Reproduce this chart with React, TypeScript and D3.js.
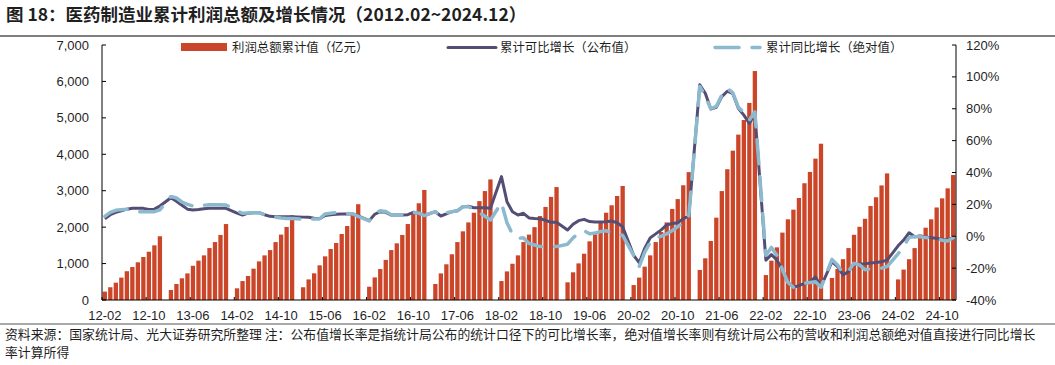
import React from "react";
import * as d3 from "d3";

// ---------- data (Feb..Dec each year; January has no release -> null) ----------
const years = [2012, 2013, 2014, 2015, 2016, 2017, 2018, 2019, 2020, 2021, 2022, 2023, 2024];

// 利润总额累计值（亿元）
const profit2012 = [230, 350, 475, 615, 790, 905, 1035, 1180, 1325, 1500, 1750];
const profit2013 = [275, 440, 595, 730, 940, 1080, 1225, 1425, 1590, 1785, 2085];
const profit2014 = [320, 520, 660, 860, 1060, 1225, 1370, 1590, 1795, 2005, 2325];
const profit2015 = [350, 565, 732, 952, 1198, 1400, 1565, 1812, 2031, 2350, 2630];
const profit2016 = [365, 620, 850, 1100, 1370, 1555, 1785, 2085, 2395, 2655, 3020];
const profit2017 = [440, 730, 980, 1255, 1590, 1885, 2130, 2395, 2715, 2990, 3310];
const profit2018 = [520, 785, 995, 1225, 1590, 1795, 2000, 2305, 2555, 2830, 3100];
const profit2019 = [485, 760, 1005, 1270, 1610, 1805, 2130, 2395, 2600, 2855, 3130];
const profit2020 = [410, 615, 915, 1225, 1590, 1865, 2130, 2500, 2770, 3150, 3510];
const profit2021 = [825, 1145, 1620, 2260, 2990, 3590, 4100, 4540, 4940, 5410, 6285];
const profit2022 = [685, 1080, 1445, 1850, 2215, 2480, 2800, 3205, 3515, 3880, 4290];
const profit2023 = [605, 850, 1120, 1425, 1790, 2010, 2230, 2580, 2820, 3145, 3475];
const profit2024 = [565, 835, 1120, 1425, 1790, 1985, 2215, 2540, 2790, 3065, 3430];

// 累计可比增长（公布值）%
const pub2012 = [11, 13.5, 15, 16, 17, 17.5, 17.5, 17.5, 16.8, 17, 19];
const pub2013 = [24.2, 22, 19.5, 17, 16.5, 16.8, 17.3, 17.5, 17.5, 17.5, 17.5];
const pub2014 = [14.5, 13.3, 14.5, 14.8, 14.8, 13.5, 12.5, 12.3, 12.3, 12.3, 12.3];
const pub2015 = [12, 11.9, 11.3, 11, 13, 13.5, 13.8, 14, 14, 14, 12.8];
const pub2016 = [9.8, 13.8, 15.4, 15, 13.3, 13.3, 13.3, 13.5, 15, 14.5, 13];
const pub2017 = [15.4, 12.7, 14, 15.4, 16, 18.5, 18.8, 17.9, 17.9, 17.9, 17.5];
const pub2018 = [37.4, 21.7, 15.4, 13.3, 14.4, 11.5, 11.2, 11, 10, 8.8, 8.8];
const pub2019 = [3.9, 7.5, 9.8, 10.6, 9.2, 9, 9, 9.1, 9.6, 8.5, 6];
const pub2020 = [-12, -16.6, -7.6, -1, 1.5, 4, 7.1, 8, 8.5, 11, 12.7];
const pub2021 = [95, 89.7, 79.8, 80.9, 87.6, 91, 89.5, 80.3, 76, 70.8, 77];
const pub2022 = [-15, -11.5, -14.9, -21.2, -29, -32, -31, -29.5, -28.8, -25.4, -31.6];
const pub2023 = [-16, -19.1, -24.3, -22.2, -17.5, -17.4, -17.2, -16.8, -16.5, -16, -15];
const pub2024 = [-6, -2.4, 2.2, -0.3, 0.2, -0.5, -1, -1.3, -2, -2.4, -0.7];

// 累计同比增长（绝对值）%
const abs2012 = [12.5, 15, 16.3, 16.7, 17, 16.5, 15.4, 15.3, 15.4, 15.4, 16.5];
const abs2013 = [25, 24, 21.5, 20, 19, 18.5, 19.5, 19.8, 19.8, 19.8, 19.6];
const abs2014 = [16, 14.4, 14.6, 14.8, 14.8, 13.5, 12.5, 12, 11.5, 11.2, 11.2];
const abs2015 = [10.6, 10.6, 10.8, 11, 14, 14.4, 14.8, 14.8, 14.3, 14, 12.5];
const abs2016 = [9.6, 14.5, 16, 15.5, 13.5, 13.3, 13.3, 13.5, 15, 14.5, 13];
const abs2017 = [15.4, 12.7, 14.8, 15.4, 16, 18.5, 18.5, 17, 14.8, 12.5, 10.2];
const abs2018 = [21, 8.5, 1.2, -1.3, -1, -4.5, -5.5, -6.5, -6.5, -6.5, -6.5];
const abs2019 = [-5, -1, 2, 3.5, 1.5, 2, 3, 3.5, 2, 1.4, 0.5];
const abs2020 = [-12, -19, -10, -4, -1, 0, 1.5, 3.5, 6, 8.5, 12.5];
const abs2021 = [94, 88, 80, 81.5, 88.5, 92.8, 90, 81, 77.5, 73, 78];
const abs2022 = [-12, -7, -12, -21, -29, -32, -31.5, -29.5, -29, -28.5, -32];
const abs2023 = [-14.5, -18, -23.3, -22, -17, -18, -21, -20.5, -20, -20, -19];
const abs2024 = [-11, -6.5, -0.7, -0.3, -0.3, -0.8, -1, -1.5, -2.5, -3, -1];

const profitYears = [profit2012, profit2013, profit2014, profit2015, profit2016, profit2017, profit2018, profit2019, profit2020, profit2021, profit2022, profit2023, profit2024];
const pubYears = [pub2012, pub2013, pub2014, pub2015, pub2016, pub2017, pub2018, pub2019, pub2020, pub2021, pub2022, pub2023, pub2024];
const absYears = [abs2012, abs2013, abs2014, abs2015, abs2016, abs2017, abs2018, abs2019, abs2020, abs2021, abs2022, abs2023, abs2024];

const leftTicks = [0, 1000, 2000, 3000, 4000, 5000, 6000, 7000];
const rightTicks = [-40, -20, 0, 20, 40, 60, 80, 100, 120];
const xTickLabels = ["12-02", "12-10", "13-06", "14-02", "14-10", "15-06", "16-02", "16-10", "17-06", "18-02", "18-10", "19-06", "20-02", "20-10", "21-06", "22-02", "22-10", "23-06", "24-02", "24-10"];

const title = "图 18：医药制造业累计利润总额及增长情况（2012.02~2024.12）";
const footer1 = "资料来源：国家统计局、光大证券研究所整理 注：公布值增长率是指统计局公布的统计口径下的可比增长率，绝对值增长率则有统计局公布的营收和利润总额绝对值直接进行同比增长";
const footer2 = "率计算所得";

// ---------- build monthly category table (Jan slots empty) ----------
type Row = { key: string; label: string; profit: number | null; pub: number | null; abs: number | null };
const rows: Row[] = [];
years.forEach((y, yi) => {
  const start = yi === 0 ? 2 : 1;
  for (let m = start; m <= 12; m++) {
    const label = `${String(y).slice(2)}-${String(m).padStart(2, "0")}`;
    const k = m - 2;
    rows.push({
      key: label,
      label,
      profit: m === 1 ? null : profitYears[yi][k],
      pub: m === 1 ? null : pubYears[yi][k],
      abs: m === 1 ? null : absYears[yi][k],
    });
  }
});

const W = 1055;
const H = 365;
const X0 = 102;
const X1 = 956;
const YT = 45;
const YB = 300;

const BAR = "#CB4528";
const DARK = "#544E75";
const LIGHT = "#8CB9CE";
const TXT = "#1f1f1f";
const NUMFONT = "'Liberation Sans', Arial, 'Noto Sans CJK SC', sans-serif";
const CJK = "'Noto Sans CJK SC', 'Liberation Sans', sans-serif";

export default function App() {
  const x = d3.scaleBand<string>().domain(rows.map((r) => r.key)).range([X0, X1]).paddingInner(0.22).paddingOuter(0.12);
  const yL = d3.scaleLinear().domain([0, 7000]).range([YB, YT]);
  const yR = d3.scaleLinear().domain([-40, 120]).range([YB, YT]);
  const cx = (k: string) => (x(k) as number) + x.bandwidth() / 2;
  const step = x.step();

  const pubPts = rows.filter((r) => r.pub !== null);
  const absPts = rows.filter((r) => r.abs !== null);
  const lineP = d3.line<Row>().x((r) => cx(r.key)).y((r) => yR(r.pub as number));
  const lineA = d3.line<Row>().x((r) => cx(r.key)).y((r) => yR(r.abs as number));
  const fmt = d3.format(",");

  return (
    <svg width={W} height={H} style={{ position: "absolute", left: 0, top: 0, background: "#fff" }}>
      {/* title */}
      <text x={6} y={21} fontFamily={CJK} fontWeight="bold" fontSize={17.5} fill={TXT}>{title}</text>
      <line x1={0} x2={W} y1={36} y2={36} stroke="#555" strokeWidth={1.5} />

      {/* bars */}
      {rows.filter((r) => r.profit !== null).map((r) => (
        <rect key={r.key} x={x(r.key)} y={yL(r.profit as number)} width={x.bandwidth()} height={YB - yL(r.profit as number)} fill={BAR} />
      ))}

      {/* lines */}
      <path d={lineP(pubPts) || ""} fill="none" stroke={DARK} strokeWidth={3} strokeLinejoin="round" />
      <path d={lineA(absPts) || ""} fill="none" stroke={LIGHT} strokeWidth={3.5} strokeLinejoin="round" strokeLinecap="round" strokeDasharray="24 13" />

      {/* axes */}
      <line x1={X0} x2={X0} y1={YT} y2={YB} stroke="#000" strokeWidth={1} />
      <line x1={X1} x2={X1} y1={YT} y2={YB} stroke="#000" strokeWidth={1} />
      <line x1={X0} x2={X1} y1={YB} y2={YB} stroke="#000" strokeWidth={1.2} />
      {leftTicks.map((t) => (
        <g key={"l" + t}>
          <line x1={X0} x2={X0 + 4} y1={yL(t)} y2={yL(t)} stroke="#000" />
          <text x={89} y={yL(t) + 4.5} textAnchor="end" fontFamily={NUMFONT} fontSize={13} fill={TXT}>{fmt(t)}</text>
        </g>
      ))}
      {rightTicks.map((t) => (
        <g key={"r" + t}>
          <line x1={X1 - 4} x2={X1} y1={yR(t)} y2={yR(t)} stroke="#000" />
          <text x={966} y={yR(t) + 4.5} textAnchor="start" fontFamily={NUMFONT} fontSize={13} fill={TXT}>{t + "%"}</text>
        </g>
      ))}
      {xTickLabels.map((lab) => {
        const bx = x(lab) as number;
        return (
          <g key={"x" + lab}>
            <line x1={bx - (step - x.bandwidth()) / 2} x2={bx - (step - x.bandwidth()) / 2} y1={YB} y2={YB - 3} stroke="#000" />
            <text x={cx(lab)} y={320} textAnchor="middle" fontFamily={NUMFONT} fontSize={13} fill={TXT}>{lab}</text>
          </g>
        );
      })}

      {/* legend */}
      <rect x={181} y={43} width={46} height={8} fill={BAR} />
      <text x={232} y={51.5} fontFamily={CJK} fontSize={12.4} fill={TXT}>利润总额累计值（亿元）</text>
      <line x1={448} x2={496} y1={47.5} y2={47.5} stroke={DARK} strokeWidth={3} strokeLinecap="round" />
      <text x={500} y={51.5} fontFamily={CJK} fontSize={12.4} fill={TXT}>累计可比增长（公布值）</text>
      <line x1={715} x2={760} y1={47.5} y2={47.5} stroke={LIGHT} strokeWidth={3.5} strokeLinecap="round" strokeDasharray="24 13" />
      <text x={766} y={51.5} fontFamily={CJK} fontSize={12.4} fill={TXT}>累计同比增长（绝对值）</text>

      {/* footer */}
      <line x1={0} x2={W} y1={324} y2={324} stroke="#555" strokeWidth={1.2} />
      <text x={5} y={339} fontFamily={CJK} fontSize={12.85} fill={TXT}>{footer1}</text>
      <text x={5} y={357} fontFamily={CJK} fontSize={12.85} fill={TXT}>{footer2}</text>
    </svg>
  );
}
